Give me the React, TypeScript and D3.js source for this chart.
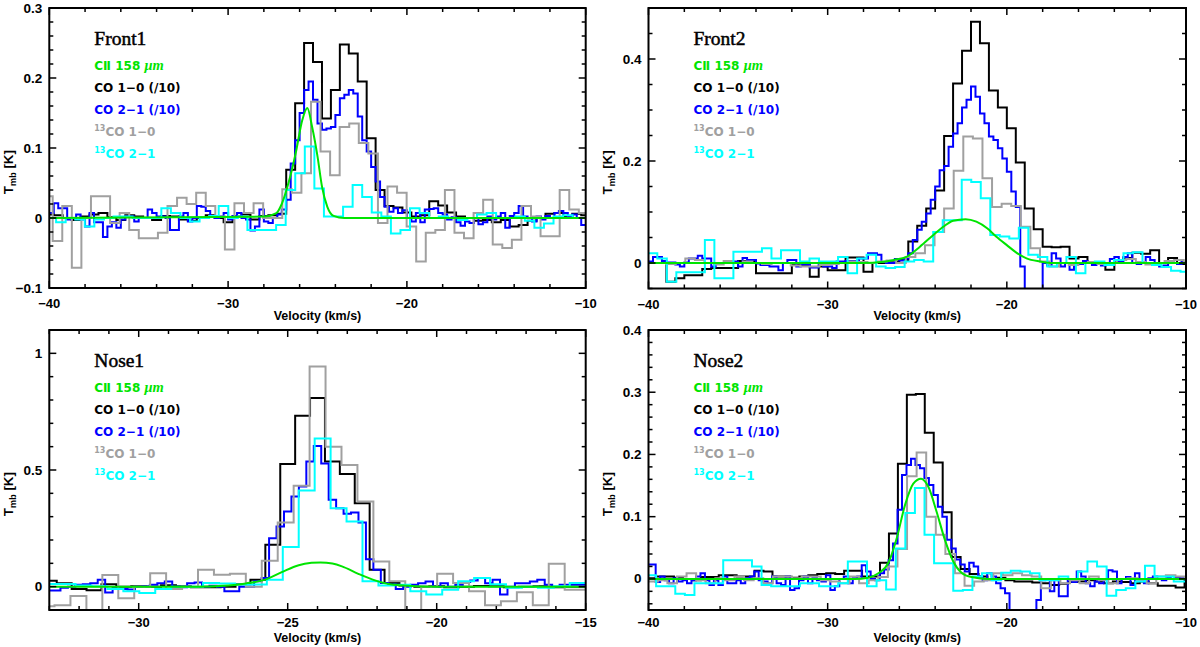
import { useEffect, useRef } from 'react';
import * as d3 from 'd3';

// Spectra. Each histogram: [first channel edge, channel width] + channel values (K).

// ---- Front1 ----
const front1Co10Grid = [-40.25, 0.5];
const front1Co10 = [0.005, 0.004, 0.0, -0.003, 0.002, 0.005, 0.007, 0.001, -0.003, 0.004, 0.002, 0.0, -0.003, 0.003, 0.002, -0.002, -0.004, 0.0, 0.004, 0.0, -0.006, 0.002, 0.005, -0.002, 0.003, 0.004, 0.006, 0.069, 0.164, 0.25, 0.223, 0.142, 0.183, 0.248, 0.235, 0.195, 0.114, 0.04, 0.017, 0.015, 0.008, 0.002, 0.004, 0.024, 0.018, 0.008, 0.002, 0.0, -0.004, -0.003, -0.006, -0.003, -0.012, -0.01, -0.004, 0.0, 0.006, 0.007, 0.003, 0.006, 0.004];
const front1Co21Grid = [-40, 0.25];
const front1Co21 = [0.007, 0.021, 0.014, 0.014, -0.002, 0.0, 0.005, -0.002, -0.012, 0.007, -0.006, -0.006, -0.027, -0.012, -0.006, -0.014, -0.002, 0.002, 0.002, -0.005, 0.0, 0.0, 0.012, 0.007, 0.002, 0.002, 0.0, -0.017, -0.017, 0.002, 0.007, -0.005, 0.0, 0.017, 0.016, 0.01, 0.002, 0.0, 0.002, 0.007, -0.002, 0.003, 0.007, 0.0, -0.002, -0.018, -0.012, 0.012, -0.005, -0.007, 0.0, 0.005, 0.012, 0.026, 0.078, 0.111, 0.15, 0.183, 0.195, 0.169, 0.135, 0.126, 0.128, 0.13, 0.147, 0.171, 0.176, 0.183, 0.178, 0.145, 0.111, 0.095, 0.073, 0.052, 0.03, 0.016, 0.009, 0.014, 0.007, 0.011, 0.0, -0.005, 0.007, -0.006, 0.012, 0.013, 0.014, 0.007, 0.005, -0.002, 0.001, -0.006, -0.011, -0.005, -0.007, 0.0, -0.009, -0.006, 0.002, -0.002, 0.002, 0.007, -0.014, 0.003, 0.007, 0.017, 0.002, 0.0, -0.005, 0.002, -0.002, 0.003, 0.0, 0.007, 0.01, 0.007, 0.002, 0.005, 0.0, -0.01];
const front1Iso10Grid = [-40.345, 0.535];
const front1Iso10 = [0.031, -0.033, 0.017, -0.071, 0.0, 0.031, 0.031, -0.007, 0.007, -0.017, -0.029, -0.029, -0.021, 0.017, 0.029, 0.02, 0.036, 0.017, 0.002, -0.045, 0.021, 0.007, 0.021, 0.0, 0.0, 0.041, 0.036, 0.064, 0.166, 0.095, 0.061, 0.13, 0.135, 0.107, 0.092, -0.007, 0.045, 0.036, -0.012, -0.062, -0.021, -0.017, 0.04, -0.021, -0.029, 0.007, 0.026, -0.038, -0.043, -0.031, 0.017, 0.002, -0.026, -0.026, 0.04, 0.012, 0.007];
const front1Iso21Grid = [-40.155, 0.535];
const front1Iso21 = [0.0, -0.006, 0.0, -0.002, -0.012, -0.002, 0.0, 0.002, 0.002, 0.0, 0.0, 0.0, 0.014, 0.007, 0.0, -0.005, 0.0, 0.003, 0.017, 0.0, 0.002, -0.017, -0.017, -0.017, -0.01, 0.04, 0.064, 0.102, 0.042, 0.002, 0.002, 0.016, 0.047, 0.03, 0.008, 0.002, -0.022, -0.017, 0.014, 0.007, 0.0, 0.002, 0.0, -0.003, 0.0, 0.005, 0.007, 0.0, 0.0, 0.002, -0.004, -0.014, -0.008, 0.002, 0.004, 0.0, 0.0];
const front1CiiV = [-40, -28, -27.3, -27.0, -26.6, -26.2, -25.85, -25.57, -25.3, -25.0, -24.75, -24.45, -24.1, -23.5, -10];
const front1CiiT = [0, 0.002, 0.007, 0.02, 0.052, 0.095, 0.14, 0.157, 0.13, 0.088, 0.045, 0.016, 0.003, 0.0, 0];

// ---- Front2 ----
const front2Co10Grid = [-40, 0.5];
const front2Co10 = [0.0, 0.0, -0.037, -0.03, -0.024, -0.024, -0.012, -0.01, -0.01, -0.01, 0.004, 0.004, -0.02, -0.02, -0.02, -0.02, -0.004, -0.004, -0.027, -0.007, -0.014, -0.014, 0.011, 0.011, -0.017, 0.0, 0.0, 0.003, 0.006, 0.042, 0.073, 0.107, 0.142, 0.249, 0.352, 0.416, 0.473, 0.431, 0.338, 0.305, 0.264, 0.197, 0.107, 0.066, 0.032, 0.031, 0.032, 0.009, 0.012, 0.002, 0.0, -0.013, 0.005, 0.01, 0.02, 0.018, 0.025, 0.0, 0.01, -0.002];
const front2Co21Grid = [-40, 0.25];
const front2Co21 = [0.003, 0.012, 0.012, 0.004, 0.001, 0.001, -0.003, -0.007, 0.001, 0.009, 0.009, 0.014, 0.009, 0.009, -0.007, 0.0, 0.0, 0.0, 0.003, 0.003, -0.007, 0.01, 0.006, 0.006, -0.001, -0.004, -0.004, -0.007, -0.007, -0.014, 0.0, 0.006, 0.006, -0.007, -0.003, -0.003, -0.009, -0.009, 0.0, -0.007, -0.007, -0.01, 0.003, 0.003, 0.004, 0.004, 0.004, 0.009, 0.009, 0.019, 0.019, 0.016, 0.002, 0.0, 0.0, 0.008, 0.005, 0.009, 0.019, 0.045, 0.065, 0.081, 0.097, 0.124, 0.15, 0.182, 0.19, 0.228, 0.254, 0.274, 0.305, 0.32, 0.346, 0.326, 0.293, 0.274, 0.248, 0.241, 0.225, 0.205, 0.179, 0.14, 0.11, -0.007, -0.06, -0.1, -0.1, -0.07, 0.0, -0.005, 0.019, 0.009, -0.007, 0.0, -0.013, 0.0, -0.002, 0.004, 0.0, -0.004, 0.002, -0.005, 0.0, 0.008, 0.012, 0.003, 0.012, 0.019, 0.0, -0.002, 0.002, 0.012, 0.006, 0.0, -0.007, -0.005, 0.003, 0.0, -0.002, 0.002];
const front2Iso10Grid = [-40.085, 0.535];
const front2Iso10 = [0.0, 0.0, -0.002, 0.0, 0.009, 0.006, 0.0, -0.003, 0.004, 0.0, 0.003, 0.0, -0.002, 0.0, 0.0, -0.005, -0.007, -0.007, -0.004, -0.002, 0.0, 0.003, 0.002, 0.0, 0.003, 0.005, 0.0, 0.012, 0.019, 0.035, 0.061, 0.107, 0.181, 0.248, 0.244, 0.166, 0.11, 0.116, 0.112, 0.071, 0.029, 0.003, -0.007, 0.0, -0.004, 0.0, 0.002, -0.002, 0.0, 0.006, 0.008, 0.002, -0.003, 0.0, 0.004, 0.006, 0.002];
const front2Iso21Grid = [-40.04, 0.531];
const front2Iso21 = [0.019, 0.009, -0.037, -0.018, -0.018, -0.018, 0.045, -0.03, -0.03, 0.022, 0.022, 0.022, 0.029, 0.009, 0.025, 0.025, 0.003, 0.009, 0.003, 0.003, 0.012, -0.02, 0.009, 0.016, -0.007, -0.01, -0.008, 0.003, 0.006, 0.003, 0.061, 0.084, 0.084, 0.163, 0.159, 0.127, 0.055, 0.052, 0.048, 0.069, 0.016, 0.012, -0.007, 0.0, 0.012, -0.02, 0.0, 0.003, -0.004, 0.006, 0.019, 0.021, 0.0, -0.004, -0.008, -0.015, -0.017];
const front2CiiV = [-40, -28, -27, -26.3, -25.6, -24.85, -24.1, -23.55, -23.0, -22.3, -21.7, -21.1, -20.6, -20.0, -19.45, -18.9, -18.15, -17.4, -16, -10];
const front2CiiT = [0, 0, 0.002, 0.006, 0.012, 0.032, 0.055, 0.071, 0.083, 0.086, 0.081, 0.068, 0.052, 0.035, 0.02, 0.009, 0.003, 0.0, 0, 0];

// ---- Nose1 ----
const nose1Co10Grid = [-33.25, 0.5];
const nose1Co10 = [0.025, 0.015, -0.01, -0.015, 0.01, 0.0, 0.002, 0.0, 0.006, 0.002, -0.002, -0.003, 0.0, 0.01, 0.03, 0.18, 0.526, 0.732, 0.809, 0.536, 0.483, 0.358, 0.073, 0.016, 0.005, 0.0, 0.002, -0.002, 0.0, 0.003, 0.002, -0.002, 0.0, 0.002, -0.002, 0.0, 0.0];
const nose1Co21Grid = [-33.125, 0.25];
const nose1Co21 = [-0.016, -0.016, -0.005, 0.0, 0.008, 0.01, 0.015, 0.03, -0.025, -0.005, -0.01, -0.012, 0.0, 0.002, 0.008, 0.015, 0.022, 0.0, -0.002, 0.015, 0.018, 0.0, 0.004, 0.0, -0.02, -0.02, 0.0, 0.0, 0.023, 0.037, 0.208, 0.258, 0.322, 0.386, 0.429, 0.536, 0.603, 0.528, 0.372, 0.336, 0.312, 0.318, 0.275, 0.118, 0.073, 0.016, 0.009, -0.01, 0.0, 0.008, 0.015, 0.022, 0.0, 0.015, 0.0, 0.008, 0.02, 0.026, 0.037, 0.015, 0.03, -0.034, 0.0, 0.015, 0.015, 0.022, 0.03, 0.008, 0.0, 0.008, 0.008, 0.008, 0.008];
const nose1Iso10Grid = [-33.36, 0.535];
const nose1Iso10 = [-0.084, -0.08, -0.04, -0.13, 0.05, -0.05, 0.0, 0.058, -0.01, 0.0, 0.073, 0.051, 0.055, 0.0, 0.111, 0.275, 0.433, 0.944, 0.6, 0.521, 0.365, 0.108, 0.023, -0.15, 0.0, 0.055, 0.016, -0.02, -0.08, -0.063, -0.024, -0.08, 0.098, -0.013, -0.013];
const nose1Iso21Grid = [-33.19, 0.535];
const nose1Iso21 = [0.011, 0.011, 0.005, 0.002, -0.01, -0.02, -0.027, -0.01, 0.0, 0.0, 0.016, 0.014, 0.009, 0.009, 0.03, 0.17, 0.412, 0.635, 0.336, 0.279, 0.023, 0.005, 0.008, -0.02, -0.034, -0.013, 0.023, 0.037, 0.01, -0.005, 0.0, -0.005, 0.002, 0.016];
const nose1CiiV = [-33, -28, -27, -26.4, -25.75, -25.2, -24.63, -24.2, -23.9, -23.5, -23.18, -22.63, -22.07, -21.51, -21, -20, -15];
const nose1CiiT = [0, 0.0, 0.005, 0.014, 0.03, 0.062, 0.092, 0.102, 0.104, 0.099, 0.087, 0.055, 0.027, 0.009, 0.004, 0.0, 0];

// ---- Nose2 ----
const nose2Co10Grid = [-40.08, 0.5];
const nose2Co10 = [0.001, 0.004, 0.004, 0.002, 0.0, -0.002, 0.003, 0.003, 0.006, 0.006, 0.004, 0.004, 0.013, 0.012, 0.004, 0.004, 0.002, 0.004, 0.006, 0.008, 0.009, 0.008, 0.013, 0.013, 0.004, 0.004, 0.026, 0.073, 0.185, 0.296, 0.297, 0.235, 0.187, 0.107, 0.035, 0.016, 0.008, 0.004, 0.0, 0.002, -0.002, -0.004, -0.004, -0.006, -0.007, -0.01, -0.008, -0.005, -0.004, -0.002, -0.004, -0.007, -0.004, -0.005, -0.007, -0.004, -0.007, -0.011, -0.011, -0.014, -0.002];
const nose2Co21Grid = [-40.1, 0.25];
const nose2Co21 = [0.023, 0.023, -0.005, 0.004, -0.002, -0.007, 0.001, -0.004, -0.002, -0.007, -0.002, 0.004, 0.009, -0.002, -0.01, -0.002, -0.01, 0.004, -0.007, -0.007, -0.002, -0.007, 0.001, 0.004, 0.012, -0.002, -0.004, -0.007, 0.004, -0.007, -0.01, 0.004, -0.018, -0.015, -0.002, 0.004, -0.007, 0.001, -0.002, -0.004, 0.006, -0.018, -0.012, 0.0, 0.004, -0.007, 0.001, 0.004, 0.022, 0.012, 0.0, -0.002, 0.009, 0.015, 0.03, 0.057, 0.111, 0.167, 0.183, 0.193, 0.183, 0.178, 0.162, 0.151, 0.135, 0.116, 0.1, 0.063, 0.049, 0.031, 0.023, 0.012, 0.026, 0.02, 0.004, -0.002, 0.009, 0.004, -0.007, -0.015, -0.023, -0.05, -0.08, -0.1, -0.1, -0.08, -0.06, -0.034, -0.002, 0.0, -0.02, 0.0, -0.028, -0.028, 0.0, -0.005, 0.012, 0.004, -0.007, -0.012, -0.004, -0.007, 0.0, 0.014, 0.012, -0.007, 0.0, 0.003, -0.01, 0.009, 0.0, -0.007, 0.001, 0.004, 0.0, -0.002, 0.002, 0.0, 0.002, 0.001, 0.001];
const nose2Iso10Grid = [-40.015, 0.535];
const nose2Iso10 = [-0.004, -0.002, -0.007, 0.004, 0.009, -0.002, -0.007, 0.001, -0.002, 0.004, -0.002, 0.001, -0.007, 0.004, 0.004, 0.001, 0.004, 0.004, -0.002, -0.004, -0.007, 0.004, -0.007, -0.002, 0.003, 0.02, 0.048, 0.165, 0.203, 0.1, 0.071, 0.04, 0.009, -0.011, -0.004, -0.002, 0.009, 0.006, 0.009, 0.006, 0.004, -0.015, -0.002, -0.007, -0.002, -0.007, 0.004, -0.002, -0.007, 0.0, 0.001, -0.002, -0.007, 0.004, 0.006, 0.004, 0.002];
const nose2Iso21Grid = [-40.11, 0.535];
const nose2Iso21 = [0.006, -0.012, -0.012, -0.024, -0.026, -0.007, -0.007, -0.007, 0.03, 0.03, 0.03, 0.02, -0.01, -0.012, -0.012, -0.012, -0.007, -0.007, -0.012, -0.012, -0.007, 0.028, 0.028, -0.012, -0.002, -0.017, 0.049, 0.106, 0.146, 0.071, 0.025, 0.025, -0.019, -0.018, 0.004, 0.009, -0.002, 0.01, 0.013, 0.012, 0.009, -0.002, -0.002, 0.004, 0.0, 0.012, 0.028, 0.02, -0.027, -0.018, -0.015, -0.004, 0.021, 0.004, 0.004, -0.004, -0.004];
const nose2CiiV = [-40, -28.5, -27.73, -27.17, -26.61, -26.15, -25.68, -25.22, -24.79, -24.38, -23.92, -23.46, -22.99, -22.53, -21.97, -21.0, -10];
const nose2CiiT = [0, 0, 0.002, 0.009, 0.026, 0.065, 0.119, 0.153, 0.161, 0.148, 0.108, 0.063, 0.028, 0.01, 0.003, 0.0, 0];

// ---- axes ----
const panelNames = ['Front1', 'Front2', 'Nose1', 'Nose2'];
const velocityRanges = [[-40, -10], [-40, -10], [-33, -15], [-40, -10]];
const tempRanges = [[-0.1, 0.3], [-0.05, 0.5], [-0.1, 1.1], [-0.05, 0.4]];
const velocitySteps = [[10, 2], [10, 2], [5, 1], [10, 2]]; // major, minor
const tempSteps = [[0.1, 0.02], [0.2, 0.05], [0.5, 0.1], [0.1, 0.02]];

const spectra = [
  { co10: [front1Co10Grid, front1Co10], co21: [front1Co21Grid, front1Co21], iso10: [front1Iso10Grid, front1Iso10], iso21: [front1Iso21Grid, front1Iso21], cii: [front1CiiV, front1CiiT] },
  { co10: [front2Co10Grid, front2Co10], co21: [front2Co21Grid, front2Co21], iso10: [front2Iso10Grid, front2Iso10], iso21: [front2Iso21Grid, front2Iso21], cii: [front2CiiV, front2CiiT] },
  { co10: [nose1Co10Grid, nose1Co10], co21: [nose1Co21Grid, nose1Co21], iso10: [nose1Iso10Grid, nose1Iso10], iso21: [nose1Iso21Grid, nose1Iso21], cii: [nose1CiiV, nose1CiiT] },
  { co10: [nose2Co10Grid, nose2Co10], co21: [nose2Co21Grid, nose2Co21], iso10: [nose2Iso10Grid, nose2Iso10], iso21: [nose2Iso21Grid, nose2Iso21], cii: [nose2CiiV, nose2CiiT] },
];

const colors = { co10: '#000000', co21: '#0000ff', iso10: '#a0a0a0', iso21: '#00ffff', cii: '#00e400' };

// frame boxes in page pixels
const frames = [
  { x0: 49.3, x1: 585.7, y0: 8, y1: 288, lab: 20 },
  { x0: 648.5, x1: 1186, y0: 8, y1: 288.5, lab: 20 },
  { x0: 49.3, x1: 585.7, y0: 330, y1: 610, lab: 17 },
  { x0: 648.5, x1: 1186, y0: 330, y1: 610, lab: 17 },
];

const SANS = 'Liberation Sans, Arial, sans-serif';
const LEGEND_FONT = 'DejaVu Sans, Verdana, sans-serif';

const fmt = (v) => (Math.round(v * 1000) / 1000).toString().replace('-', '\u2212');

function ticksFor(d0, d1, step) {
  const out = [];
  const i0 = Math.ceil(d0 / step - 1e-6);
  const i1 = Math.floor(d1 / step + 1e-6);
  for (let i = i0; i <= i1; i++) out.push(+(i * step).toFixed(6));
  return out;
}

function histPoints(grid, values) {
  const pts = values.map((v, k) => [grid[0] + k * grid[1], v]);
  pts.push([grid[0] + values.length * grid[1], values[values.length - 1]]);
  return pts;
}

export default function App() {
  const svgRef = useRef(null);

  useEffect(() => {
    const svg = d3.select(svgRef.current);
    svg.selectAll('*').remove();
    const defs = svg.append('defs');

    frames.forEach((f, i) => {
      const x = d3.scaleLinear().domain(velocityRanges[i]).range([f.x0, f.x1]);
      const y = d3.scaleLinear().domain(tempRanges[i]).range([f.y1, f.y0]);
      const g = svg.append('g');

      defs.append('clipPath').attr('id', `clip${i}`)
        .append('rect').attr('x', f.x0).attr('y', f.y0)
        .attr('width', f.x1 - f.x0).attr('height', f.y1 - f.y0);

      const plot = g.append('g').attr('clip-path', `url(#clip${i})`);
      const step = d3.line().x(d => x(d[0])).y(d => y(d[1])).curve(d3.curveStepAfter);
      const smooth = d3.line().x(d => x(d[0])).y(d => y(d[1])).curve(d3.curveMonotoneX);

      const s = spectra[i];
      ['co10', 'co21', 'iso10', 'iso21'].forEach(key => {
        plot.append('path')
          .attr('d', step(histPoints(s[key][0], s[key][1])))
          .attr('fill', 'none')
          .attr('stroke', colors[key])
          .attr('stroke-width', 2);
      });
      const [cv, ct] = s.cii;
      plot.append('path')
        .attr('d', smooth(cv.map((v, k) => [v, ct[k]])))
        .attr('fill', 'none')
        .attr('stroke', colors.cii)
        .attr('stroke-width', 2);

      // frame
      g.append('rect')
        .attr('x', f.x0).attr('y', f.y0)
        .attr('width', f.x1 - f.x0).attr('height', f.y1 - f.y0)
        .attr('fill', 'none').attr('stroke', '#000').attr('stroke-width', 2);

      // inward ticks on all sides
      const [vMaj, vMin] = velocitySteps[i];
      const [tMaj, tMin] = tempSteps[i];
      const tk = g.append('g').attr('stroke', '#000').attr('stroke-width', 1.5);
      ticksFor(velocityRanges[i][0], velocityRanges[i][1], vMin).forEach(v => {
        const len = Math.abs(v / vMaj - Math.round(v / vMaj)) < 1e-6 ? 7 : 4;
        tk.append('line').attr('x1', x(v)).attr('x2', x(v)).attr('y1', f.y1).attr('y2', f.y1 - len);
        tk.append('line').attr('x1', x(v)).attr('x2', x(v)).attr('y1', f.y0).attr('y2', f.y0 + len);
      });
      ticksFor(tempRanges[i][0], tempRanges[i][1], tMin).forEach(t => {
        const len = Math.abs(t / tMaj - Math.round(t / tMaj)) < 1e-6 ? 7 : 4;
        tk.append('line').attr('y1', y(t)).attr('y2', y(t)).attr('x1', f.x0).attr('x2', f.x0 + len);
        tk.append('line').attr('y1', y(t)).attr('y2', y(t)).attr('x1', f.x1).attr('x2', f.x1 - len);
      });

      // tick labels
      ticksFor(velocityRanges[i][0], velocityRanges[i][1], vMaj).forEach(v => {
        g.append('text').attr('x', x(v)).attr('y', f.y1 + f.lab)
          .attr('text-anchor', 'middle').attr('font-family', SANS).attr('font-weight', 'bold')
          .attr('font-size', 13).text(fmt(v));
      });
      ticksFor(tempRanges[i][0], tempRanges[i][1], tMaj).forEach(t => {
        g.append('text').attr('x', f.x0 - 7).attr('y', y(t) + 4.5)
          .attr('text-anchor', 'end').attr('font-family', SANS).attr('font-weight', 'bold')
          .attr('font-size', 13.5).text(fmt(t));
      });

      // axis titles
      g.append('text').attr('x', (f.x0 + f.x1) / 2).attr('y', f.y1 + 31.5)
        .attr('text-anchor', 'middle').attr('font-family', SANS).attr('font-weight', 'bold')
        .attr('font-size', 12.5).text('Velocity (km/s)');
      const yl = g.append('text')
        .attr('transform', `translate(${f.x0 - 36.5},${(f.y0 + f.y1) / 2 + 24}) rotate(-90)`)
        .attr('text-anchor', 'middle').attr('font-family', SANS).attr('font-weight', 'bold')
        .attr('font-size', 13.5);
      yl.append('tspan').text('T');
      yl.append('tspan').attr('font-size', 9).attr('dy', 3).text('mb');
      yl.append('tspan').attr('dy', -3).text(' [K]');

      // title + legend
      const lx = f.x0 + 45;
      g.append('text').attr('x', lx).attr('y', f.y0 + 37)
        .attr('font-family', 'Liberation Serif, serif').attr('font-size', 19.5)
        .attr('stroke', '#000').attr('stroke-width', 0.5)
        .text(panelNames[i]);

      const legend = (row, color) => g.append('text').attr('x', lx).attr('y', f.y0 + 62 + 22 * row)
        .attr('font-family', LEGEND_FONT).attr('font-weight', 'bold').attr('font-size', 12)
        .attr('fill', color);

      const l0 = legend(0, colors.cii);
      l0.append('tspan').text('C\u2161 158 ');
      l0.append('tspan').attr('font-family', 'Liberation Serif, serif').attr('font-style', 'italic').attr('font-size', 14.5).text('\u03bcm');
      legend(1, colors.co10).text('CO 1\u22120 (/10)');
      legend(2, colors.co21).text('CO 2\u22121 (/10)');
      const l3 = legend(3, colors.iso10);
      l3.append('tspan').attr('font-size', 8).attr('dy', -5).text('13');
      l3.append('tspan').attr('dy', 5).text('CO 1\u22120');
      const l4 = legend(4, colors.iso21);
      l4.append('tspan').attr('font-size', 8).attr('dy', -5).text('13');
      l4.append('tspan').attr('dy', 5).text('CO 2\u22121');
    });
  }, []);

  return (
    <svg
      ref={svgRef}
      width={1200}
      height={647}
      viewBox="0 0 1200 647"
      style={{ position: 'absolute', left: 0, top: 0, background: '#fff' }}
    />
  );
}
